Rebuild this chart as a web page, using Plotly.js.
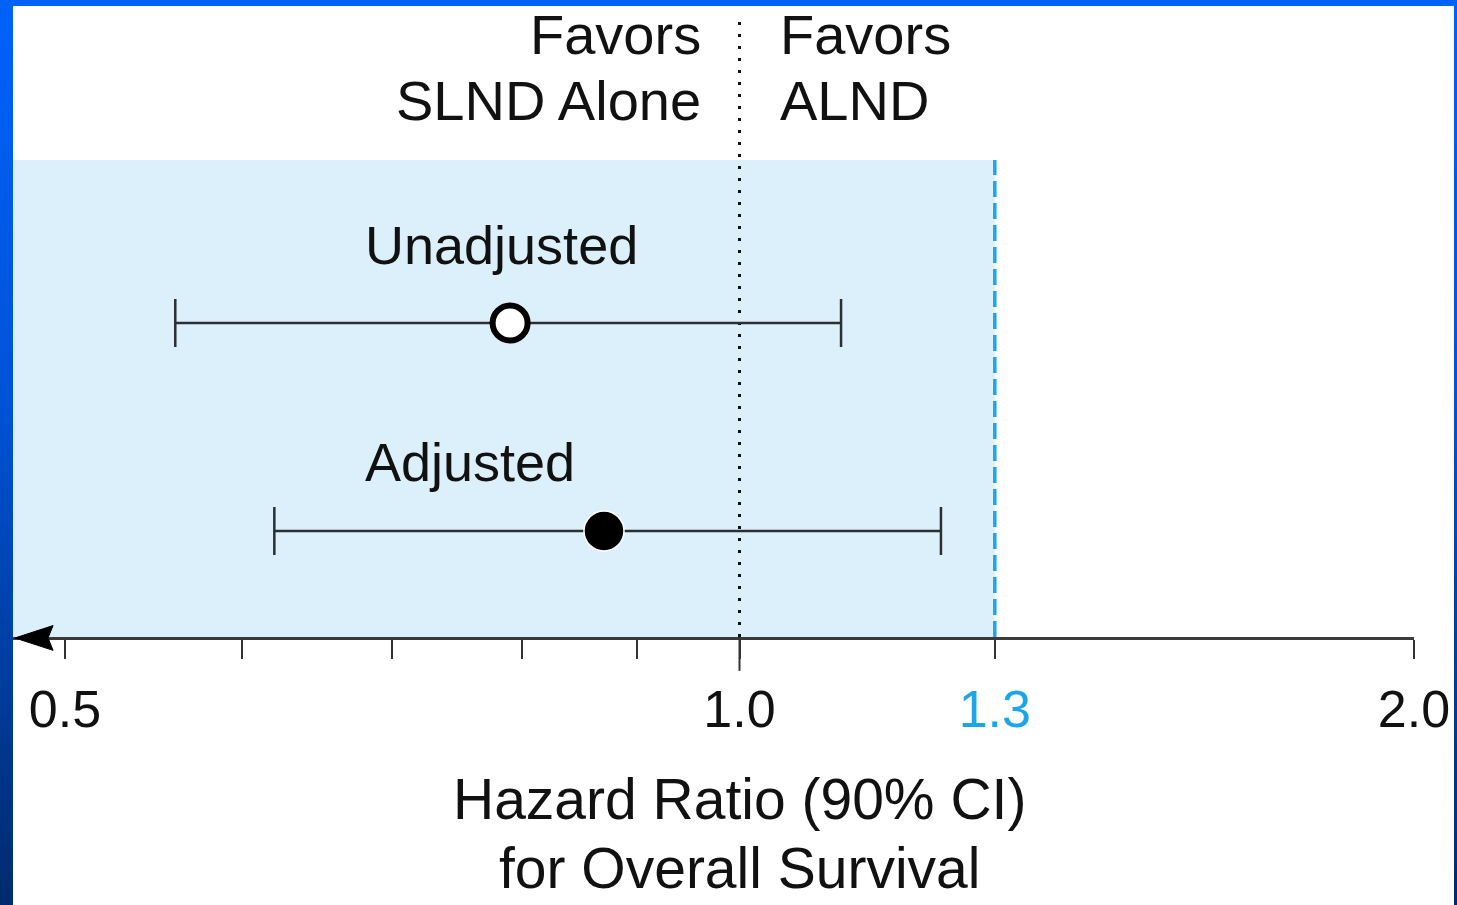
<!DOCTYPE html>
<html>
<head>
<meta charset="utf-8">
<script src="https://cdn.plot.ly/plotly-3.0.1.min.js"></script>
<style>
  html, body { margin: 0; padding: 0; }
  body {
    width: 1457px; height: 905px; overflow: hidden; position: relative;
    background: linear-gradient(to bottom, #0062fb 0%, #0052d6 45%, #002a6e 100%);
  }
  #chart { position: absolute; left: 13px; top: 0px; width: 1441px; height: 905px; background: #fff; }
  #topband { position: absolute; left: 0; top: 0; width: 1457px; height: 6px; background: #0062fb; z-index: 5; }
</style>
</head>
<body>
<div id="chart"></div>
<div id="topband"></div>
<script>
// ---- data ----
const categories = ['Unadjusted', 'Adjusted'];
const hazardRatio = [0.79, 0.87];
const ciLower = [0.56, 0.62];
const ciUpper = [1.11, 1.23];
const tickValues = [0.5, 1.0, 1.3, 2.0];
const tickLabels = ['0.5', '1.0', '<span style="color:#1ea4e9">1.3</span>', '2.0'];
const minorTickValues = [0.6, 0.7, 0.8, 0.9];
const marginLimit = 1.3;
const nullValue = 1.0;

const FONT = '"Liberation Sans", Arial, Helvetica, sans-serif';
const TXT = '#111111';
const XRANGE = [-0.32424, 0.30103];

const traces = categories.map((c, i) => ({
  type: 'scatter',
  mode: 'markers',
  x: [hazardRatio[i]],
  y: [c],
  error_x: {
    type: 'data', symmetric: false,
    array: [ciUpper[i] - hazardRatio[i]],
    arrayminus: [hazardRatio[i] - ciLower[i]],
    color: '#2b2f33', thickness: 2.5, width: 24
  },
  marker: i === 0
    ? { symbol: 'circle', size: 35, color: '#ffffff', line: { color: '#000000', width: 6 } }
    : { symbol: 'circle', size: 40, color: '#000000', line: { color: '#ffffff', width: 1.5 } },
  showlegend: false,
  hoverinfo: 'skip'
}));

const shapes = [
  // shaded non-inferiority region
  { type: 'rect', xref: 'paper', yref: 'paper', x0: 0,
    x1: (Math.log10(marginLimit) - XRANGE[0]) / (XRANGE[1] - XRANGE[0]), y0: 0, y1: 1,
    fillcolor: '#dcf0fb', line: { width: 0 }, layer: 'below' },
  // margin dashed line
  { type: 'line', xref: 'x', yref: 'paper', x0: marginLimit, x1: marginLimit, y0: 0, y1: 1,
    line: { color: '#1ea4e9', width: 3.5, dash: '16px,6px' }, layer: 'below' },
  // null dotted line
  { type: 'line', xref: 'x', yref: 'paper', x0: nullValue, x1: nullValue, y0: 0, y1: 1.304,
    line: { color: '#111111', width: 3, dash: '3px,9px' }, layer: 'below' },
  // longer tick at 1.0
  { type: 'line', xref: 'x', yref: 'paper', x0: nullValue, x1: nullValue, y0: 0, y1: -0.071,
    line: { color: '#333333', width: 2 } },
  // arrow head at left end of axis
  { type: 'path', xref: 'paper', yref: 'paper',
    path: 'M0.0014,-0.002 L0.0286,0.024 L0.0250,-0.002 L0.0286,-0.028 Z',
    fillcolor: '#000000', line: { color: '#000000', width: 1 } }
];

const ann = (text, x, y, xanchor, size) => ({
  text, x, y, xref: 'paper', yref: 'paper', xanchor, yanchor: 'middle',
  showarrow: false, font: { family: FONT, size: size || 54, color: TXT }
});

const annotations = [
  ann('Favors', 0.4925, 1.2621, 'right', 56),
  ann('SLND Alone', 0.4925, 1.1237, 'right', 56),
  ann('Favors', 0.5460, 1.2621, 'left', 56),
  ann('ALND', 0.5460, 1.1237, 'left', 56),
  ann(categories[0], 0.2495, 0.8218, 'left'),
  ann(categories[1], 0.2495, 0.3669, 'left'),
  ann('Hazard Ratio (90% CI)', 0.5189, -0.3396, 'center', 57),
  ann('for Overall Survival', 0.5189, -0.4843, 'center', 57)
];

const layout = {
  width: 1441, height: 905,
  margin: { l: 0, r: 40, t: 160, b: 268, pad: 0 },
  paper_bgcolor: '#ffffff', plot_bgcolor: 'rgba(0,0,0,0)',
  showlegend: false, hovermode: false,
  font: { family: FONT, size: 54, color: TXT },
  xaxis: {
    type: 'log',
    range: XRANGE,
    tickmode: 'array', tickvals: tickValues, ticktext: tickLabels,
    ticks: 'outside', ticklen: 19, tickwidth: 2, tickcolor: '#333333',
    minor: { tickmode: 'array', tickvals: minorTickValues, ticks: 'outside', ticklen: 19, tickwidth: 2, tickcolor: '#333333', showgrid: false },
    showline: true, linecolor: '#3a3a3a', linewidth: 3,
    showgrid: false, zeroline: false,
    tickfont: { family: FONT, size: 52, color: TXT },
    ticklabelstandoff: 6,
    fixedrange: true
  },
  yaxis: {
    type: 'category', categoryorder: 'array', categoryarray: categories,
    range: [1.5096, -0.7837],
    showticklabels: false, ticks: '', showgrid: false, zeroline: false, showline: false,
    fixedrange: true
  },
  shapes, annotations
};

Plotly.newPlot('chart', traces, layout, { staticPlot: true, displayModeBar: false });
</script>
</body>
</html>
